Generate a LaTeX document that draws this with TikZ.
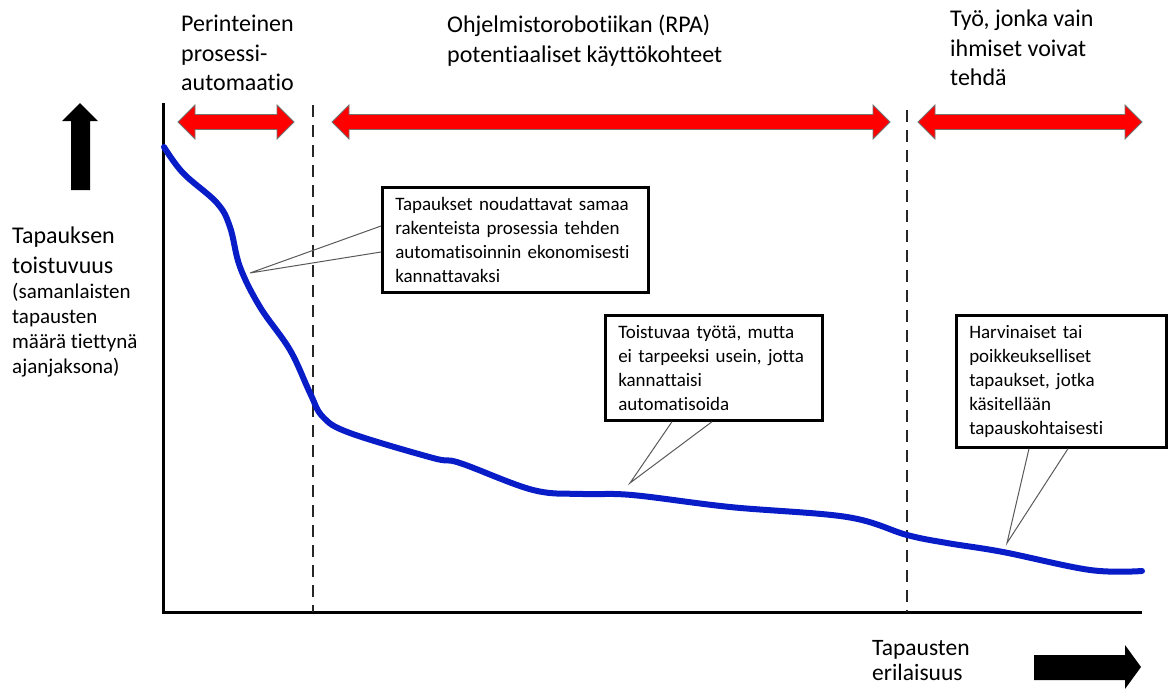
\documentclass[tikz,border=0pt]{standalone}
\usepackage{fontspec}
\setmainfont[Ligatures=NoCommon]{Carlito}
\usepackage{tikz}
\usepackage{xcolor}
\usetikzlibrary{calc,positioning}
\definecolor{curveblue}{RGB}{8,28,200}
\definecolor{spanred}{RGB}{255,0,0}

\begin{document}
\begin{tikzpicture}[x=1pt,y=-1pt]
  \useasboundingbox (0,0) rectangle (1173,696);
  \tikzstyle{Axis}=[line width=3pt, line join=miter]
  \tikzstyle{Divider}=[line width=2.5pt, dash pattern=on 12pt off 8pt, black!85]
  \tikzstyle{Span}=[fill=spanred, draw=black!55, line width=0.8pt]
  \tikzstyle{Heading}=[anchor=north west, inner sep=0pt, align=left, font=\fontsize{24}{29.5}\selectfont]
  \tikzstyle{Callout}=[draw, line width=2.5pt, anchor=north west, align=left, inner xsep=13pt, inner ysep=10pt, font=\fontsize{19}{24}\selectfont]
  \tikzstyle{Pointer}=[line width=1pt, black!65]
  % axes and dividers
  \draw[Axis] (163,103) -- (163,612) -- (1142,612);
  \draw[Divider] (313,105) -- (313,612);
  \draw[Divider] (907,110) -- (907,612);
  % spans
  \foreach \xa/\xb in {178/294,332/890,918/1142}
    \draw[Span] (\xa,122) -- (\xa+17,105) -- (\xa+17,114.5) -- (\xb-17,114.5) -- (\xb-17,105)
      -- (\xb,122) -- (\xb-17,139) -- (\xb-17,129.5) -- (\xa+17,129.5) -- (\xa+17,139) -- cycle;
  \fill (80,103) -- (98,121) -- (90,121) -- (90,190) -- (71,190) -- (71,121) -- (62,121) -- cycle;
  \fill (1141,667) -- (1125,645) -- (1125,655) -- (1034,655) -- (1034,680) -- (1125,680) -- (1125,689) -- cycle;
  % headings
  \node[Heading] (trad) at (181,15) {Perinteinen\\prosessi-\\automaatio};
  \node[Heading] (rpa) at (447,15) {Ohjelmistorobotiikan (RPA)\\potentiaaliset käyttökohteet};
  \node[Heading] (human) at (950,10) {Työ, jonka vain\\ihmiset voivat\\tehdä};
  \node[Heading] (ylab) at (12,227) {Tapauksen\\toistuvuus};
  \node[Heading, font=\fontsize{21}{25}\selectfont] (ylabsub) at (12,283) {(samanlaisten\\tapausten\\määrä tiettynä\\ajanjaksona)};
  \node[Heading, font=\fontsize{23.5}{25.5}\selectfont] (xlab) at (872,640) {Tapausten\\erilaisuus};
  % curve
  \draw[curveblue, line width=6pt, line cap=round] plot[smooth, tension=0.6] coordinates {
    (164,147) (183,173) (217,203) (230,227) (240,267) (260,307) (290,350) (310,393)
    (323,417) (350,433) (433,458) (460,463) (533,490) (583,494) (632,495) (730,507)
    (847,517) (907,535) (947,543) (1003,552) (1090,570) (1142,571)};
  % callouts
  \node[Callout, text width=240pt] (same) at (381,186)
    {Tapaukset noudattavat samaa\\rakenteista prosessia tehden\\automatisoinnin ekonomisesti\\kannattavaksi};
  \node[Callout, text width=191pt] (rep) at (604,314)
    {Toistuvaa työtä, mutta\\ei tarpeeksi usein, jotta\\kannattaisi\\automatisoida};
  \node[Callout, text width=184pt] (rare) at (955,314)
    {Harvinaiset tai\\poikkeukselliset\\tapaukset, jotka\\käsitellään\\tapauskohtaisesti};
  \coordinate (sametip) at (250,273);
  \coordinate (reptip) at (630,483);
  \coordinate (raretip) at (1007,543);
  \draw[Pointer] ($(same.north west)+(0,40)$) -- (sametip) -- ($(same.north west)+(0,66)$);
  \draw[Pointer] ($(rep.south west)+(68,0)$) -- (reptip) -- ($(rep.south west)+(108,0)$);
  \draw[Pointer] ($(rare.south west)+(74,0)$) -- (raretip) -- ($(rare.south west)+(113,0)$);
\end{tikzpicture}
\end{document}
